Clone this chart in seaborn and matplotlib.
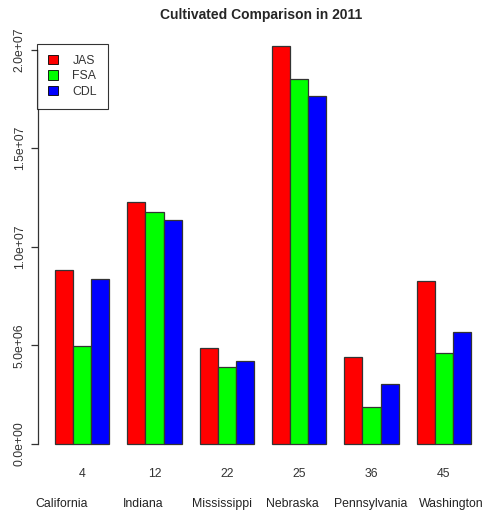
import numpy as np
import pandas as pd
import matplotlib
matplotlib.use('Agg')
import matplotlib.pyplot as plt
import seaborn as sns

# values
states = ['California', 'Indiana', 'Mississippi', 'Nebraska', 'Pennsylvania', 'Washington']
codes = ['4', '12', '22', '25', '36', '45']
jas = [8.85e6, 12.3e6, 4.85e6, 20.2e6, 4.4e6, 8.25e6]
fsa = [4.95e6, 11.75e6, 3.9e6, 18.5e6, 1.87e6, 4.6e6]
cdl = [8.35e6, 11.35e6, 4.22e6, 17.65e6, 3.02e6, 5.68e6]
sources = ['JAS', 'FSA', 'CDL']
colors = ['#ff0000', '#00ff00', '#0000ff']

df = pd.DataFrame({
    'code': codes * 3,
    'source': np.repeat(sources, len(codes)),
    'value': jas + fsa + cdl,
})

sns.set_style('white')
plt.rcParams['font.family'] = ['Liberation Sans', 'DejaVu Sans']

fig = plt.figure(figsize=(4.89, 5.11), dpi=100)
ax = fig.add_axes([0.0785, 0.0998, 0.9186, 0.8415])

sns.barplot(data=df, x='code', y='value', hue='source', order=codes,
            hue_order=sources, palette=colors, saturation=1, width=0.75, gap=0,
            errorbar=None, edgecolor='#333333', linewidth=0.9, ax=ax)

ax.set_xlim(-0.605, 5.605)
ax.set_ylim(-0.81e6, 21.0e6)
ax.set_xlabel('')
ax.set_ylabel('')

for s in ['top', 'right', 'bottom']:
    ax.spines[s].set_visible(False)
ax.spines['left'].set_bounds(0, 2e7)
ax.spines['left'].set_color('#333333')
ax.spines['left'].set_linewidth(0.9)

yt = [0, 5e6, 1e7, 1.5e7, 2e7]
ax.set_yticks(yt)
ax.set_yticklabels(['%.1e' % v for v in yt], rotation=90, va='center',
                   fontsize=8.8, color='#333333')
ax.tick_params(axis='y', left=True, length=5, width=0.9, color='#333333', pad=4)
ax.tick_params(axis='x', bottom=False, labelsize=8.8, labelcolor='#333333', pad=2.5)

# state names on a second line
name_x = [62, 143, 222, 292, 371, 451]
for name, px in zip(states, name_x):
    fig.text(px / 489, 0.013, name, ha='center', va='center', fontsize=8.8,
             color='#222222')

leg = ax.legend(loc='upper left', bbox_to_anchor=(-0.003, 0.968), frameon=True,
                fancybox=False, edgecolor='black', borderaxespad=0, fontsize=8.8,
                handlelength=0.8, handleheight=0.8, handletextpad=1.2,
                labelspacing=0.28, borderpad=0.9)
leg.get_frame().set_linewidth(0.8)
for t in leg.get_texts():
    t.set_color('#333333')
for h in leg.legend_handles:
    h.set_edgecolor('black')
    h.set_linewidth(0.6)

fig.suptitle('Cultivated Comparison in 2011', fontsize=10, fontweight='bold',
             x=0.535, y=0.985)

fig.savefig('out.png', dpi=100)
